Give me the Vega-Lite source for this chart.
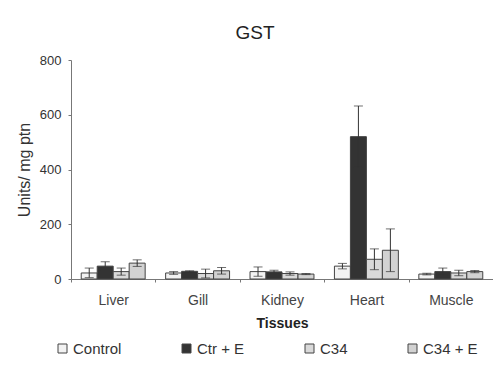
{
  "$schema": "https://vega.github.io/schema/vega-lite/v6.json",
  "width": 422,
  "height": 219,
  "autosize": {"type": "none"},
  "padding": {"left": 71, "top": 60, "right": 0, "bottom": 90},
  "background": "white",
  "title": {"text": "GST", "fontSize": 19, "fontWeight": "normal", "font": "Liberation Sans", "color": "#222", "offset": 11, "dx": -27},
  "config": {
    "font": "Liberation Sans",
    "view": {"stroke": null}
  },
  "data": {
    "values": [
      {"tissue": "Liver", "group": "Control", "mean": 22, "lo": 5, "hi": 40},
      {"tissue": "Liver", "group": "Ctr + E", "mean": 47, "lo": 31, "hi": 63},
      {"tissue": "Liver", "group": "C34", "mean": 27, "lo": 14, "hi": 40},
      {"tissue": "Liver", "group": "C34 + E", "mean": 58, "lo": 46, "hi": 70},
      {"tissue": "Gill", "group": "Control", "mean": 22, "lo": 17, "hi": 27},
      {"tissue": "Gill", "group": "Ctr + E", "mean": 28, "lo": 26, "hi": 30},
      {"tissue": "Gill", "group": "C34", "mean": 20, "lo": 4, "hi": 36},
      {"tissue": "Gill", "group": "C34 + E", "mean": 30, "lo": 18, "hi": 42},
      {"tissue": "Kidney", "group": "Control", "mean": 27, "lo": 10, "hi": 44},
      {"tissue": "Kidney", "group": "Ctr + E", "mean": 26, "lo": 20, "hi": 32},
      {"tissue": "Kidney", "group": "C34", "mean": 20, "lo": 14, "hi": 26},
      {"tissue": "Kidney", "group": "C34 + E", "mean": 18, "lo": 16, "hi": 20},
      {"tissue": "Heart", "group": "Control", "mean": 47, "lo": 37, "hi": 57},
      {"tissue": "Heart", "group": "Ctr + E", "mean": 520, "lo": 408, "hi": 632},
      {"tissue": "Heart", "group": "C34", "mean": 72, "lo": 34, "hi": 110},
      {"tissue": "Heart", "group": "C34 + E", "mean": 105, "lo": 27, "hi": 183},
      {"tissue": "Muscle", "group": "Control", "mean": 18, "lo": 15, "hi": 21},
      {"tissue": "Muscle", "group": "Ctr + E", "mean": 27, "lo": 14, "hi": 40},
      {"tissue": "Muscle", "group": "C34", "mean": 22, "lo": 12, "hi": 32},
      {"tissue": "Muscle", "group": "C34 + E", "mean": 27, "lo": 23, "hi": 31}
    ]
  },
  "encoding": {
    "x": {
      "field": "tissue", "type": "nominal",
      "sort": ["Liver", "Gill", "Kidney", "Heart", "Muscle"],
      "scale": {"paddingInner": 0, "paddingOuter": 0},
      "axis": {
        "title": "Tissues", "titleFontSize": 14, "titleFontWeight": "bold", "titleColor": "#222", "titlePadding": 9,
        "labelAngle": 0, "labelFontSize": 14, "labelColor": "#444", "labelPadding": 11,
        "tickBand": "extent", "tickSize": 3, "tickColor": "#777", "domainColor": "#777"
      }
    },
    "xOffset": {
      "field": "group", "type": "nominal",
      "sort": ["Control", "Ctr + E", "C34", "C34 + E"],
      "scale": {"paddingInner": 0, "paddingOuter": 0.64}
    }
  },
  "layer": [
    {
      "mark": {"type": "bar", "stroke": "#444", "strokeWidth": 1},
      "encoding": {
        "y": {
          "field": "mean", "type": "quantitative",
          "scale": {"domain": [0, 800]},
          "axis": {
            "title": "Units/ mg ptn", "titleFontSize": 16, "titleFontWeight": "normal", "titleColor": "#333", "titlePadding": 7,
            "values": [0, 200, 400, 600, 800], "grid": false,
            "labelFontSize": 13, "labelColor": "#333", "labelPadding": 7,
            "tickSize": 3, "tickColor": "#777", "domainColor": "#777"
          }
        },
        "fill": {
          "field": "group", "type": "nominal",
          "sort": ["Control", "Ctr + E", "C34", "C34 + E"],
          "scale": {"domain": ["Control", "Ctr + E", "C34", "C34 + E"], "range": ["#f2f2f2", "#333333", "#d9d9d9", "#d2d2d2"]},
          "legend": {
            "title": null, "orient": "none", "legendX": -16, "legendY": 281,
            "direction": "horizontal", "columns": 4, "gridAlign": "none", "columnPadding": 57,
            "symbolType": "square", "symbolSize": 81, "symbolStrokeColor": "#444", "symbolStrokeWidth": 1,
            "labelFontSize": 15, "labelColor": "#333", "labelOffset": 3
          }
        }
      }
    },
    {
      "mark": {"type": "rule", "color": "#333", "strokeWidth": 1},
      "encoding": {
        "y": {"field": "lo", "type": "quantitative"},
        "y2": {"field": "hi"}
      }
    },
    {
      "mark": {"type": "tick", "color": "#333", "size": 9, "thickness": 1},
      "encoding": {"y": {"field": "hi", "type": "quantitative"}}
    },
    {
      "mark": {"type": "tick", "color": "#333", "size": 9, "thickness": 1},
      "encoding": {"y": {"field": "lo", "type": "quantitative"}}
    }
  ]
}
